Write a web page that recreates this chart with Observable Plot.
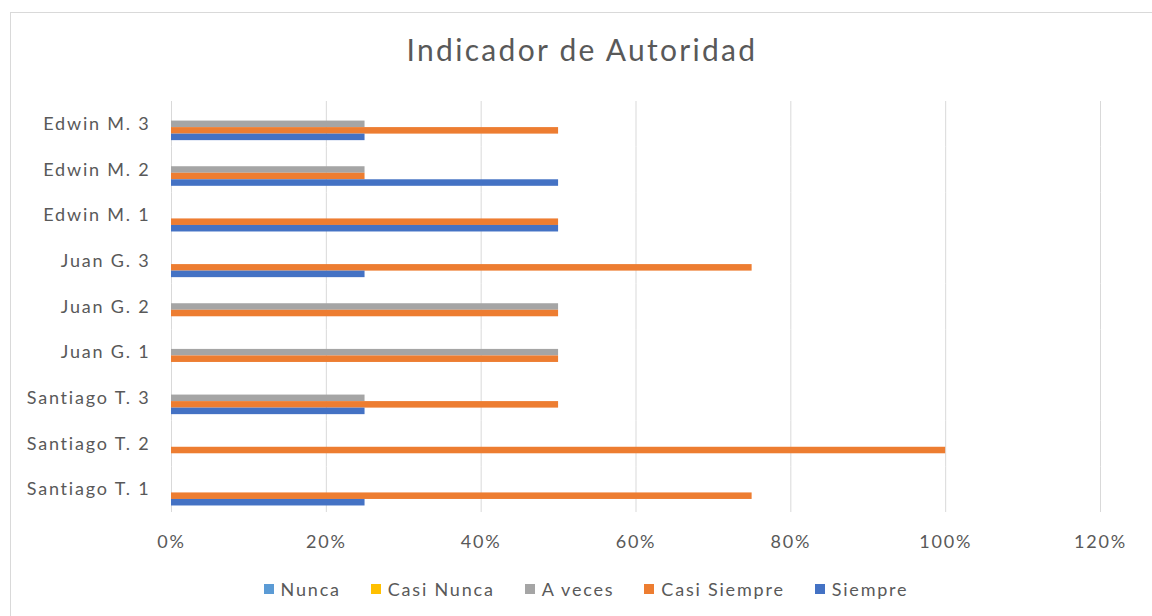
<!DOCTYPE html>
<html>
<head>
<meta charset="utf-8">
<script src="https://cdn.jsdelivr.net/npm/d3@7"></script>
<script src="https://cdn.jsdelivr.net/npm/@observablehq/plot@0.6"></script>
<style>
  body { margin: 0; background: #fff; font-family: Lato, "Open Sans", sans-serif; }
  #wrap { position: relative; width: 1152px; height: 616px; overflow: hidden; }
  #frame { position: absolute; left: 10px; top: 12px; width: 1160px; height: 620px; border: 1px solid #d9d9d9; box-sizing: border-box; }
  #title { position: absolute; left: 0; top: 31px; width: 1164px; text-align: center; font-size: 30px; letter-spacing: 2.3px; color: #595959; line-height: 36px; }
  #chart { position: absolute; left: 0; top: 90px; }
  #chart svg text { letter-spacing: 1.8px; }
  #legend { position: absolute; left: 0; top: 578px; width: 1172px; display: flex; justify-content: center; gap: 30px; font-size: 18px; letter-spacing: 1.8px; color: #595959; line-height: 22px; }
  .item { display: flex; align-items: center; gap: 7px; }
  .sw { width: 10px; height: 10px; display: inline-block; }
</style>
</head>
<body>
<div id="wrap">
  <div id="frame"></div>
  <div id="title">Indicador de Autoridad</div>
  <div id="chart"></div>
  <div id="legend"></div>
</div>
<script>
const categories = ["Santiago T. 1", "Santiago T. 2", "Santiago T. 3", "Juan G. 1", "Juan G. 2", "Juan G. 3", "Edwin M. 1", "Edwin M. 2", "Edwin M. 3"];
const series = ["Nunca", "Casi Nunca", "A veces", "Casi Siempre", "Siempre"];
const colors = ["#5B9BD5", "#FFC000", "#A5A5A5", "#ED7D31", "#4472C4"];
const nunca       = [0, 0, 0, 0, 0, 0, 0, 0, 0];
const casiNunca   = [0, 0, 0, 0, 0, 0, 0, 0, 0];
const aVeces      = [0, 0, 0.25, 0.5, 0.5, 0, 0, 0.25, 0.25];
const casiSiempre = [0.75, 1.0, 0.5, 0.5, 0.5, 0.75, 0.5, 0.25, 0.5];
const siempre     = [0.25, 0, 0.25, 0, 0, 0.25, 0.5, 0.5, 0.25];
const xTicks = [0, 0.2, 0.4, 0.6, 0.8, 1.0, 1.2];

const values = [nunca, casiNunca, aVeces, casiSiempre, siempre];
const data = categories.flatMap((c, i) => series.map((s, j) => ({cat: c, series: s, value: values[j][i]})));

const chart = Plot.plot({
  width: 1152,
  height: 470,
  marginLeft: 171,
  marginRight: 52,
  marginTop: 11,
  marginBottom: 48,
  style: {fontSize: "18px", fontFamily: "Lato, 'Open Sans', sans-serif", color: "#595959", background: "transparent"},
  x: {domain: [0, 1.2], ticks: xTicks, tickFormat: d3.format(".0%"), tickSize: 0, tickPadding: 23, label: null, axis: "bottom"},
  fy: {domain: categories.slice().reverse(), padding: 0, round: false, label: null, tickSize: 0, tickPadding: 21, axis: "left"},
  y: {domain: series, paddingInner: 0, paddingOuter: 1, round: false, axis: null},
  color: {domain: series, range: colors},
  marks: [
    Plot.gridX({ticks: xTicks, stroke: "#d9d9d9", strokeOpacity: 1, strokeWidth: 1}),
    Plot.barX(data, {x: "value", y: "series", fy: "cat", fill: "series"})
  ]
});
document.getElementById("chart").appendChild(chart);

const legend = document.getElementById("legend");
series.forEach((s, i) => {
  const it = document.createElement("div");
  it.className = "item";
  const sw = document.createElement("span");
  sw.className = "sw";
  sw.style.background = colors[i];
  const t = document.createElement("span");
  t.textContent = s;
  it.appendChild(sw);
  it.appendChild(t);
  legend.appendChild(it);
});
</script>
</body>
</html>
